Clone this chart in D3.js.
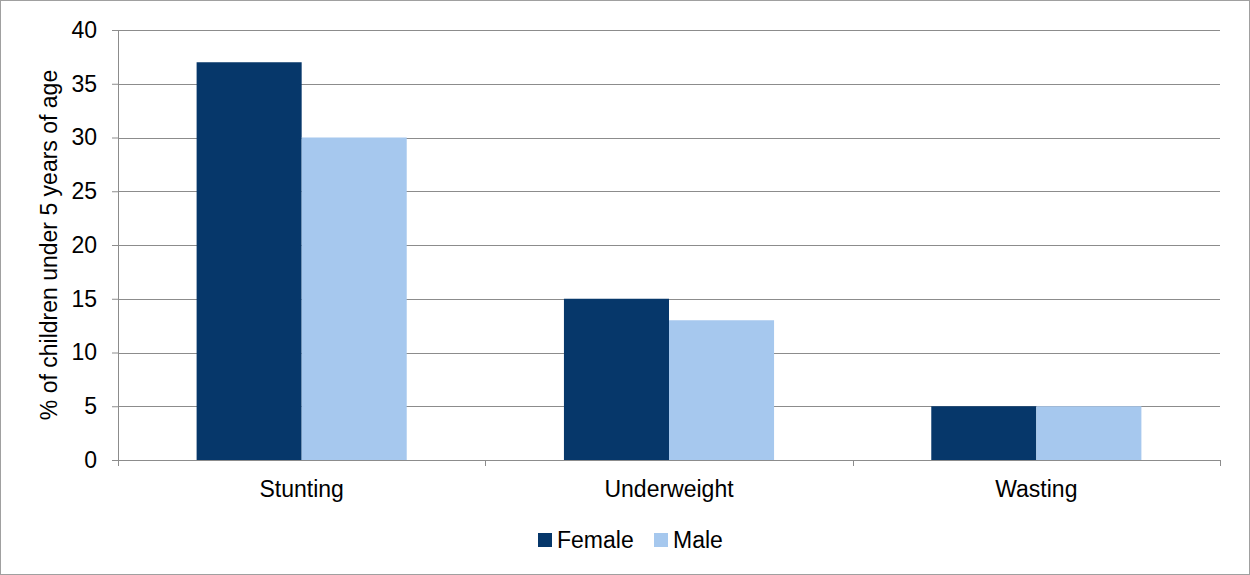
<!DOCTYPE html>
<html>
<head>
<meta charset="utf-8">
<script src="https://cdn.jsdelivr.net/npm/d3@7"></script>
<style>
  html, body { margin: 0; padding: 0; background: #fff; }
  svg { display: block; font-family: "Liberation Sans", Arial, sans-serif; }
</style>
</head>
<body>
<svg id="chart" width="1250" height="575"></svg>
<script>
// Malnutrition indicators by sex (% of children under 5)
const categories = ["Stunting", "Underweight", "Wasting"];
const seriesNames = ["Female", "Male"];
const femaleValues = [37, 15, 5];
const maleValues = [30, 13, 5];
const yTicks = [0, 5, 10, 15, 20, 25, 30, 35, 40];
const colors = ["#06376A", "#A6C8EE"];

const FONT = 23;
const svg = d3.select("#chart");
const W = 1250, H = 575;
const m = { left: 118, right: 30, top: 30, bottom: 115 };
const plotW = W - m.left - m.right;
const plotH = H - m.top - m.bottom;

// outer frame
svg.append("rect").attr("x", 0.5).attr("y", 0.5).attr("width", W - 1).attr("height", H - 1)
  .attr("fill", "#fff").attr("stroke", "#a0a0a0");

const g = svg.append("g").attr("transform", `translate(${m.left},${m.top})`);

const x0 = d3.scaleBand().domain(categories).range([0, plotW]).paddingInner(0).paddingOuter(0);
const groupW = x0.bandwidth() * 0.572;
const x1 = d3.scaleBand().domain(seriesNames).range([0, groupW]).padding(0);
const y = d3.scaleLinear().domain([0, 40]).range([plotH, 0]);

// horizontal gridlines
g.append("g").selectAll("line").data(yTicks.filter(t => t > 0)).join("line")
  .attr("x1", 0).attr("x2", plotW)
  .attr("y1", d => Math.round(y(d)) + 0.5).attr("y2", d => Math.round(y(d)) + 0.5)
  .attr("stroke", "#8c8c8c").attr("stroke-width", 1);

// bars
const data = categories.map((c, i) => ({ cat: c, vals: [femaleValues[i], maleValues[i]] }));
const groups = g.append("g").selectAll("g").data(data).join("g")
  .attr("transform", d => `translate(${x0(d.cat) + (x0.bandwidth() - groupW) / 2},0)`);
groups.selectAll("rect").data(d => d.vals.map((v, j) => ({ name: seriesNames[j], v, j }))).join("rect")
  .attr("x", d => x1(d.name))
  .attr("width", x1.bandwidth())
  .attr("y", d => y(d.v))
  .attr("height", d => plotH - y(d.v))
  .attr("fill", d => colors[d.j]);

// y axis
const yAxis = g.append("g").call(d3.axisLeft(y).tickValues(yTicks).tickSize(6).tickPadding(15).tickSizeOuter(0));
yAxis.select(".domain").attr("stroke", "#8c8c8c");
yAxis.selectAll(".tick line").attr("stroke", "#8c8c8c");
yAxis.selectAll("text").attr("font-size", FONT).attr("fill", "#000").attr("font-family", "Liberation Sans, Arial, sans-serif");

// x axis
const xAxis = g.append("g").attr("transform", `translate(0,${plotH})`)
  .call(d3.axisBottom(x0).tickSize(0).tickPadding(37));
xAxis.select(".domain").attr("stroke", "#8c8c8c");
xAxis.selectAll("text").attr("dy", null).attr("font-size", FONT).attr("fill", "#000").attr("font-family", "Liberation Sans, Arial, sans-serif");
// category boundary ticks
g.append("g").selectAll("line").data(d3.range(categories.length + 1)).join("line")
  .attr("x1", i => Math.round(i * x0.step()) + 0.5).attr("x2", i => Math.round(i * x0.step()) + 0.5)
  .attr("y1", plotH).attr("y2", plotH + 6)
  .attr("stroke", "#8c8c8c");

// y axis title
svg.append("text")
  .attr("transform", `translate(57,${m.top + plotH / 2}) rotate(-90)`)
  .attr("text-anchor", "middle")
  .attr("font-size", FONT)
  .attr("fill", "#000")
  .text("% of children under 5 years of age");

// legend
const legend = svg.append("g");
const legendItems = [{ name: seriesNames[0], x: 538 }, { name: seriesNames[1], x: 654 }];
legendItems.forEach((d, i) => {
  legend.append("rect").attr("x", d.x).attr("y", 533).attr("width", 14).attr("height", 14).attr("fill", colors[i]);
  legend.append("text").attr("x", d.x + 19).attr("y", 548).attr("font-size", FONT).attr("fill", "#000").text(d.name);
});
</script>
</body>
</html>
